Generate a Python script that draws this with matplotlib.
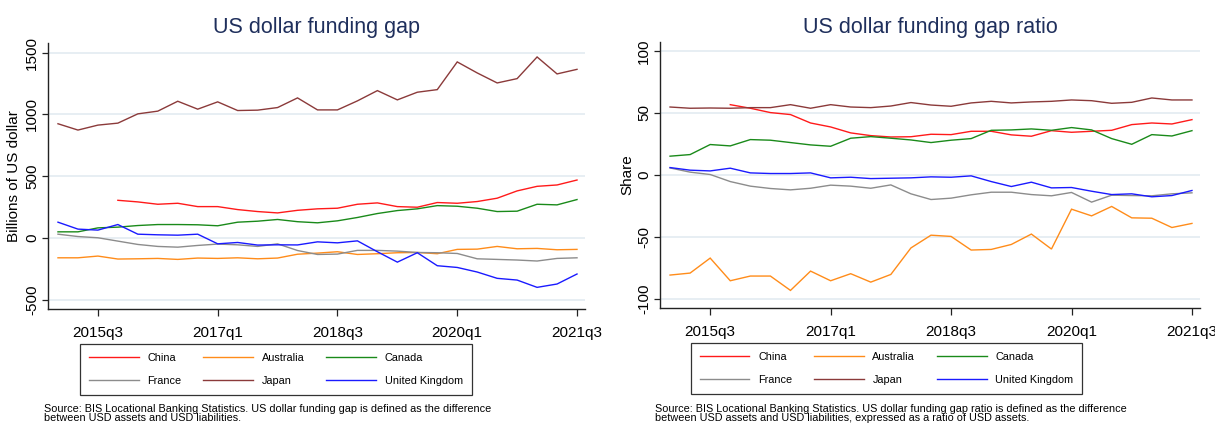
import numpy as np
import matplotlib
matplotlib.use("Agg")
import matplotlib.pyplot as plt

plt.rcParams['font.family'] = ['Liberation Sans', 'DejaVu Sans']

nan = np.nan
quarters = ['2015q1', '2015q2', '2015q3', '2015q4', '2016q1', '2016q2', '2016q3', '2016q4',
            '2017q1', '2017q2', '2017q3', '2017q4', '2018q1', '2018q2', '2018q3', '2018q4',
            '2019q1', '2019q2', '2019q3', '2019q4', '2020q1', '2020q2', '2020q3', '2020q4',
            '2021q1', '2021q2', '2021q3']
tick_labels = ['2015q3', '2017q1', '2018q3', '2020q1', '2021q3']
countries = ['China', 'Australia', 'Canada', 'France', 'Japan', 'United Kingdom']

# Billions of US dollar
china_gap = [nan, nan, nan, 306, 293, 274, 282, 255, 255, 231, 215, 204, 225, 237, 242, 274,
             285, 255, 250, 288, 282, 296, 323, 382, 419, 430, 470]
australia_gap = [-159, -159, -145, -169, -167, -164, -172, -161, -164, -159, -167, -161, -130,
                 -121, -110, -132, -126, -118, -116, -126, -91, -89, -67, -86, -83, -94, -91]
canada_gap = [51, 51, 83, 89, 102, 110, 110, 108, 100, 129, 137, 151, 133, 124, 140, 167, 199,
              223, 237, 263, 258, 242, 215, 218, 274, 269, 312]
france_gap = [32, 13, 3, -24, -51, -67, -73, -59, -48, -54, -67, -46, -100, -132, -129, -99,
              -99, -105, -116, -118, -124, -167, -172, -177, -185, -164, -159]
japan_gap = [925, 874, 914, 930, 1005, 1027, 1107, 1043, 1102, 1032, 1035, 1056, 1134, 1037,
             1037, 1110, 1193, 1118, 1180, 1201, 1425, 1336, 1255, 1290, 1465, 1328, 1365]
uk_gap = [129, 73, 65, 110, 32, 27, 24, 32, -46, -35, -56, -54, -55, -30, -38, -22, -110, -194,
          -118, -223, -237, -274, -325, -339, -398, -371, -290]

# Share (%)
china_ratio = [nan, nan, nan, 56.7, 53.8, 50.3, 48.7, 41.9, 38.7, 33.9, 31.7, 30.6, 30.8, 32.8,
               32.5, 35.2, 35.2, 32.3, 31.2, 35.7, 34.4, 35.2, 36.0, 40.6, 41.9, 41.1, 44.6]
australia_ratio = [-80.9, -79.3, -67.2, -85.5, -81.7, -81.7, -93.3, -77.7, -85.5, -79.8, -86.6,
                   -80.4, -59.0, -48.7, -49.7, -60.7, -60.2, -56.2, -47.8, -59.9, -27.7, -33.1,
                   -25.5, -34.7, -35.0, -42.5, -39.2]
canada_ratio = [15.1, 16.4, 24.5, 23.4, 28.5, 28.0, 26.1, 24.2, 23.1, 29.6, 30.9, 29.6, 28.2,
                26.1, 28.0, 29.3, 36.0, 36.3, 37.1, 36.0, 38.2, 36.3, 29.3, 24.7, 32.5, 31.4, 35.7]
france_ratio = [5.6, 2.2, 0.3, -5.4, -9.1, -11.0, -12.1, -10.8, -8.3, -9.1, -10.8, -8.1, -15.3,
                -19.9, -18.8, -16.1, -14.0, -14.0, -15.9, -16.9, -14.2, -22.0, -16.4, -16.7,
                -16.9, -15.3, -14.5]
japan_ratio = [54.8, 53.8, 54.0, 53.8, 54.3, 54.3, 56.7, 53.8, 56.7, 54.8, 54.3, 55.6, 58.4, 56.4,
               55.4, 58.1, 59.4, 58.1, 58.9, 59.4, 60.5, 59.9, 57.8, 58.6, 62.1, 60.5, 60.5]
uk_ratio = [5.9, 3.8, 3.2, 5.4, 1.6, 1.1, 1.1, 1.6, -2.4, -1.9, -3.0, -2.7, -2.4, -1.6, -1.9,
            -0.8, -5.4, -9.4, -5.9, -10.5, -10.2, -13.2, -15.9, -15.3, -17.7, -16.7, -12.6]

gap_series = [china_gap, australia_gap, canada_gap, france_gap, japan_gap, uk_gap]
ratio_series = [china_ratio, australia_ratio, canada_ratio, france_ratio, japan_ratio, uk_ratio]
gap_yticks = [-500, 0, 500, 1000, 1500]
ratio_yticks = [-100, -50, 0, 50, 100]

colors = ['#ff1a1a', '#ff8c1a', '#1a8a1a', '#8c8c8c', '#8b3a3a', '#1a1aff']
title_color = '#1f2f5c'
grid_color = '#e7eef3'

W, H = 1215, 424
fig = plt.figure(figsize=(W / 100, H / 100), dpi=100)


def px_axes(l, t, r, b):
    return fig.add_axes([l / W, 1 - b / H, (r - l) / W, (b - t) / H])


def style(ax, yticks, ylim, series):
    x = np.arange(len(quarters))
    lines = []
    for s, c in zip(series, colors):
        ln, = ax.plot(x, s, color=c, lw=1.0, solid_joinstyle='miter')
        lines.append(ln)
    ax.set_xlim(-0.5, len(quarters) - 0.6)
    ax.set_ylim(*ylim)
    ax.set_xticks([quarters.index(q) for q in tick_labels])
    ax.set_xticklabels(tick_labels)
    ax.set_yticks(yticks)
    ax.set_yticklabels([str(v) for v in yticks])
    for sp in ['top', 'right']:
        ax.spines[sp].set_visible(False)
    for sp in ['left', 'bottom']:
        ax.spines[sp].set_color('#222222')
        ax.spines[sp].set_linewidth(1.0)
    ax.tick_params(axis='x', direction='out', length=5, width=0.9, pad=7,
                   labelsize=11, color='#222222')
    ax.tick_params(axis='y', direction='out', length=4, width=0.9, pad=2.5,
                   labelsize=11, color='#222222', labelrotation=90)
    for lab in ax.get_yticklabels():
        lab.set_va('center')
    ax.grid(axis='y', color=grid_color, lw=1.4)
    ax.set_axisbelow(True)
    return lines


ax1 = px_axes(48, 43, 585, 309)
l1 = style(ax1, gap_yticks, (-573, 1578), gap_series)
ax2 = px_axes(660, 42, 1200, 308)
l2 = style(ax2, ratio_yticks, (-107.5, 107.3), ratio_series)

fig.text(316.5 / W, 1 - 28 / H, 'US dollar funding gap', ha='center', va='center',
         fontsize=15.5, color=title_color)
fig.text(930 / W, 1 - 28 / H, 'US dollar funding gap ratio', ha='center', va='center',
         fontsize=15.5, color=title_color)
fig.text(14 / W, 1 - 176 / H, 'Billions of US dollar', rotation=90, ha='center', va='center',
         fontsize=11)
fig.text(627 / W, 1 - 175 / H, 'Share', rotation=90, ha='center', va='center', fontsize=11)

order = [0, 3, 1, 4, 2, 5]
for ax, lines, cx, cy in [(ax1, l1, 276, 369.5), (ax2, l2, 886.5, 368.5)]:
    leg = ax.legend([lines[i] for i in order], [countries[i] for i in order], ncol=3,
                    loc='center', bbox_to_anchor=(cx / W, 1 - cy / H),
                    bbox_transform=fig.transFigure, frameon=True, fancybox=False,
                    edgecolor='black', fontsize=7.8, handlelength=4.6, handletextpad=0.8,
                    columnspacing=2.0, borderpad=0.8, labelspacing=1.2)
    leg.get_frame().set_linewidth(0.9)

fig.text(44 / W, 1 - 404 / H,
         'Source: BIS Locational Banking Statistics. US dollar funding gap is defined as the difference\n'
         'between USD assets and USD liabilities.',
         ha='left', va='top', fontsize=7.8, linespacing=0.9)
fig.text(655 / W, 1 - 404 / H,
         'Source: BIS Locational Banking Statistics. US dollar funding gap ratio is defined as the difference\n'
         'between USD assets and USD liabilities, expressed as a ratio of USD assets.',
         ha='left', va='top', fontsize=7.8, linespacing=0.9)

fig.savefig('out.png', dpi=100)
